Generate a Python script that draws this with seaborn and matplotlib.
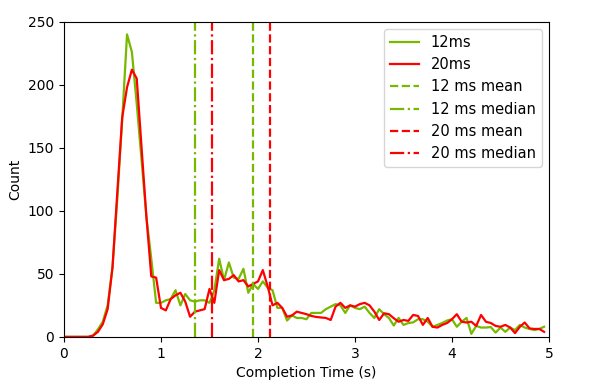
import numpy as np
import pandas as pd
import matplotlib
matplotlib.use("Agg")
import matplotlib.pyplot as plt
import seaborn as sns

# bin positions (s)
time_s = [round(0.05 * i, 2) for i in range(100)]

counts_12ms = [
    0, 0, 0, 0, 0, 0, 1, 6, 12, 25,
    55, 110, 172, 240, 226, 185, 140, 95, 62, 27,
    27, 29, 30, 37, 25, 34, 29, 28, 29, 29,
    27, 37, 62, 45, 59, 47, 46, 54, 35, 42,
    38, 44, 39, 37, 23, 23, 13, 17, 15, 15,
    14, 19, 19, 19, 22, 24, 26, 25, 19, 25,
    23, 22, 24, 19, 15, 22, 18, 15, 9, 15,
    9.5, 11, 11.5, 14, 14, 12, 8, 9.5, 11, 13,
    14, 8, 12, 15, 2.4, 8.7, 7.4, 7.4, 7.8, 3.4,
    7.4, 4, 7.4, 5.4, 9.5, 7.4, 6.3, 5.4, 6.3, 8,
]

counts_20ms = [
    0, 0, 0, 0, 0, 0, 1, 4, 10, 22,
    55, 115, 174, 198, 212, 205, 150, 95, 48, 47,
    23, 21, 30, 33, 35, 28, 16, 20, 21, 22,
    38, 27, 53, 45, 46, 49, 44, 45, 40, 42,
    44, 53, 40, 25, 27, 23, 16, 17, 20, 19,
    18, 16.6, 15.8, 15.4, 15, 13.4, 24, 27, 23, 25,
    24, 26, 27, 25, 20, 13.4, 18.7, 18, 14.8, 12,
    13.4, 12.7, 17.4, 16.6, 9.5, 15, 8, 7.4, 9.5, 11,
    14, 18, 12, 11.4, 12, 8.7, 17.4, 12, 11, 8.7,
    8, 9.5, 7.4, 3, 8, 11.4, 6.7, 6.3, 6.3, 4,
]

mean_12ms = 1.948
median_12ms = 1.348
mean_20ms = 2.12
median_20ms = 1.53

GREEN = "#76b900"
RED = "#ff0000"

df = pd.DataFrame({
    "time": time_s * 2,
    "count": counts_12ms + counts_20ms,
    "series": ["12ms"] * len(time_s) + ["20ms"] * len(time_s),
})

fig, ax = plt.subplots(figsize=(5.98, 3.89), dpi=100)
fig.subplots_adjust(left=0.107, right=0.918, top=0.944, bottom=0.134)

sns.lineplot(data=df, x="time", y="count", hue="series",
             palette={"12ms": GREEN, "20ms": RED}, linewidth=1.6, ax=ax)

ax.axvline(mean_12ms, color=GREEN, linestyle="--", linewidth=1.6, label="12 ms mean")
ax.axvline(median_12ms, color=GREEN, linestyle="-.", linewidth=1.6, label="12 ms median")
ax.axvline(mean_20ms, color=RED, linestyle="--", linewidth=1.6, label="20 ms mean")
ax.axvline(median_20ms, color=RED, linestyle="-.", linewidth=1.6, label="20 ms median")

ax.set_xlim(0, 5)
ax.set_ylim(0, 250)
ax.set_xlabel("Completion Time (s)")
ax.set_ylabel("Count")

handles, labels = ax.get_legend_handles_labels()
ax.legend(handles, labels, loc="upper right", fontsize=10.5)

fig.savefig("out.png", dpi=100)
